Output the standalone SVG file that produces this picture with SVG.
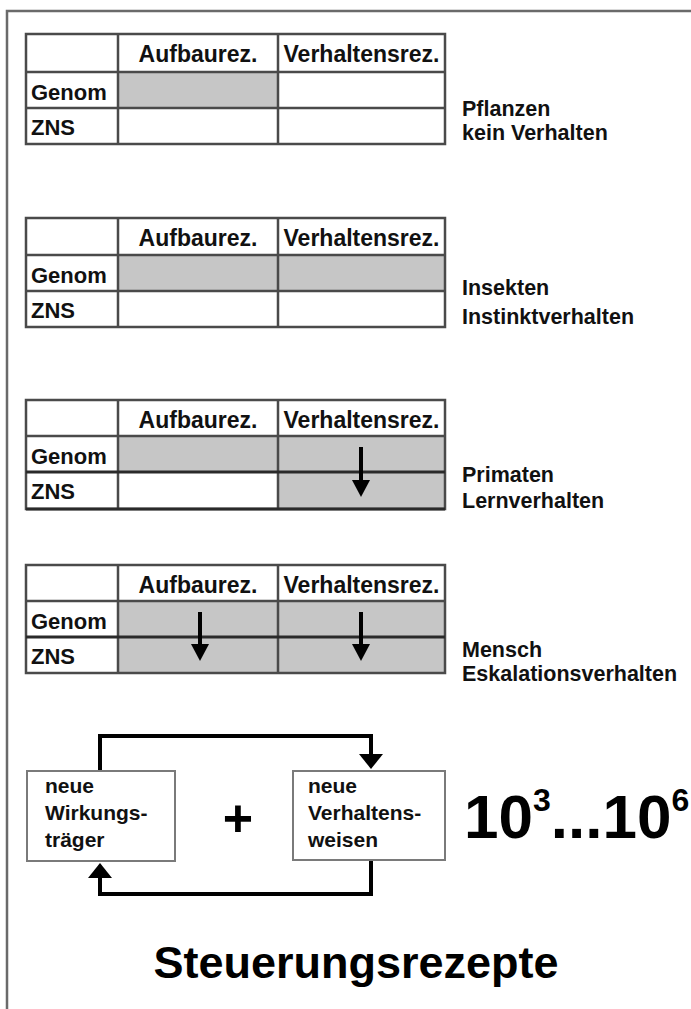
<svg xmlns="http://www.w3.org/2000/svg" width="691" height="1009" viewBox="0 0 691 1009">
<style>
.frame{stroke:#6a6a6a;stroke-width:2.5;fill:none}
.shade{fill:#c6c6c6}
.grid{stroke:#4a4a4a;stroke-width:2.5;fill:none}
.div{stroke:#2a2a2a;stroke-width:3;fill:none}
.th{font-family:'Liberation Sans',Arial,sans-serif;font-weight:bold;font-size:23px;fill:#111}
.rh{font-family:'Liberation Sans',Arial,sans-serif;font-weight:bold;font-size:22px;fill:#111}
.lbl{font-family:'Liberation Sans',Arial,sans-serif;font-weight:bold;font-size:21.5px;fill:#111}
.box{fill:#fff;stroke:#7a7a7a;stroke-width:2}
.bt{font-family:'Liberation Sans',Arial,sans-serif;font-weight:bold;font-size:21px;fill:#111}
.conn{stroke:#000;stroke-width:4;fill:none}
.tarr{stroke:#000;stroke-width:4;fill:none}
</style>
<defs>
<marker id="loopHead" markerUnits="userSpaceOnUse" viewBox="0 -12 15 24" markerWidth="15" markerHeight="24" refX="0" refY="0" orient="auto">
<path d="M0,-12 L15,0 L0,12 z" fill="#000"/>
</marker>
<marker id="cellHead" markerUnits="userSpaceOnUse" viewBox="0 -9 17 18" markerWidth="17" markerHeight="18" refX="0" refY="0" orient="auto">
<path d="M0,-9 L17,0 L0,9 z" fill="#000"/>
</marker>
</defs>
<rect width="691" height="1009" fill="#fff"/>
<path class="frame" d="M7,1009 V11 H691"/>

<g id="table-pflanzen">
<rect class="shade" x="118" y="72" width="160" height="36"/>
<rect class="grid" x="26" y="34" width="419" height="110"/>
<path class="grid" d="M118,34 V144 M278,34 V144 M26,72 H445 M26,108 H445"/>
<text class="th" x="198" y="62" text-anchor="middle">Aufbaurez.</text>
<text class="th" x="361.5" y="62" text-anchor="middle">Verhaltensrez.</text>
<text class="rh" x="31" y="100">Genom</text>
<text class="rh" x="31" y="135">ZNS</text>
<text class="lbl" x="462" y="116">Pflanzen</text>
<text class="lbl" x="462" y="140">kein Verhalten</text>
</g>

<g id="table-insekten">
<rect class="shade" x="118" y="255" width="327" height="36"/>
<rect class="grid" x="26" y="218" width="419" height="109"/>
<path class="grid" d="M118,218 V327 M278,218 V327 M26,255 H445 M26,291 H445"/>
<text class="th" x="198" y="246" text-anchor="middle">Aufbaurez.</text>
<text class="th" x="361.5" y="246" text-anchor="middle">Verhaltensrez.</text>
<text class="rh" x="31" y="283">Genom</text>
<text class="rh" x="31" y="318">ZNS</text>
<text class="lbl" x="462" y="295">Insekten</text>
<text class="lbl" x="462" y="324">Instinktverhalten</text>
</g>

<g id="table-primaten">
<rect class="shade" x="118" y="436" width="327" height="36"/>
<rect class="shade" x="278" y="472" width="167" height="37"/>
<rect class="grid" x="26" y="400" width="419" height="109"/>
<path class="grid" d="M118,400 V509 M278,400 V509 M26,436 H445"/>
<path class="div" d="M26,472 H445 M26,509 H445"/>
<text class="th" x="198" y="428" text-anchor="middle">Aufbaurez.</text>
<text class="th" x="361.5" y="428" text-anchor="middle">Verhaltensrez.</text>
<text class="rh" x="31" y="464">Genom</text>
<text class="rh" x="31" y="499">ZNS</text>
<path class="tarr" d="M361,447 V480" marker-end="url(#cellHead)"/>
<text class="lbl" x="462" y="482">Primaten</text>
<text class="lbl" x="462" y="508">Lernverhalten</text>
</g>

<g id="table-mensch">
<rect class="shade" x="118" y="601" width="327" height="72"/>
<rect class="grid" x="26" y="565" width="419" height="108"/>
<path class="grid" d="M118,565 V673 M278,565 V673 M26,601 H445"/>
<path class="div" d="M26,637 H445"/>
<text class="th" x="198" y="593" text-anchor="middle">Aufbaurez.</text>
<text class="th" x="361.5" y="593" text-anchor="middle">Verhaltensrez.</text>
<text class="rh" x="31" y="629">Genom</text>
<text class="rh" x="31" y="664">ZNS</text>
<path class="tarr" d="M200,612 V644" marker-end="url(#cellHead)"/>
<path class="tarr" d="M361,612 V644" marker-end="url(#cellHead)"/>
<text class="lbl" x="462" y="657">Mensch</text>
<text class="lbl" x="462" y="681">Eskalationsverhalten</text>
</g>

<g id="connectors">
<path class="conn" d="M100,771 V736 H371 V754" marker-end="url(#loopHead)"/>
<path class="conn" d="M371,860 V894 H100 V878" marker-end="url(#loopHead)"/>
</g>

<g id="node-wirkungstraeger">
<rect class="box" x="27" y="771" width="148" height="90"/>
<text class="bt" x="45" y="793">neue</text>
<text class="bt" x="45" y="820">Wirkungs-</text>
<text class="bt" x="45" y="847">träger</text>
</g>

<g id="plus">
<text x="238" y="836" text-anchor="middle" font-family="'Liberation Sans',Arial,sans-serif" font-weight="bold" font-size="52" fill="#000">+</text>
</g>

<g id="node-verhaltensweisen">
<rect class="box" x="293" y="771" width="152" height="89"/>
<text class="bt" x="308" y="793">neue</text>
<text class="bt" x="308" y="820">Verhaltens-</text>
<text class="bt" x="308" y="847">weisen</text>
</g>

<g id="count">
<text x="464" y="838" font-family="'Liberation Sans',Arial,sans-serif" font-weight="bold" font-size="62" fill="#000">10<tspan font-size="32" dy="-27">3</tspan><tspan dy="27">...10</tspan><tspan font-size="32" dy="-27">6</tspan></text>
</g>

<g id="title">
<text x="356" y="978" text-anchor="middle" font-family="'Liberation Sans',Arial,sans-serif" font-weight="bold" font-size="45" fill="#000">Steuerungsrezepte</text>
</g>
</svg>
